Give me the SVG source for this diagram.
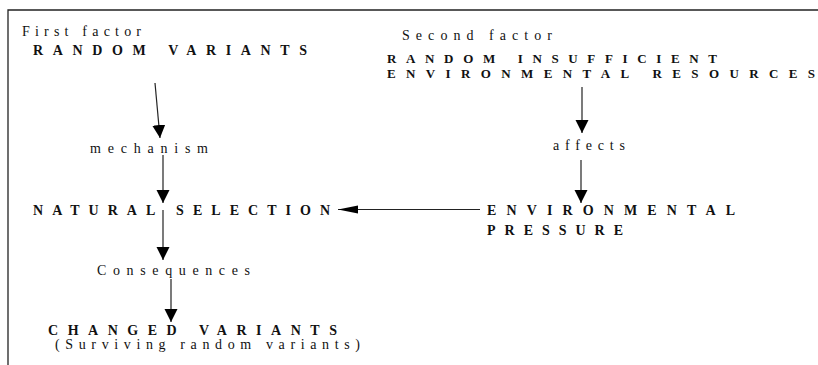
<svg xmlns="http://www.w3.org/2000/svg" width="818" height="365" viewBox="0 0 818 365">
<style>
text{font-family:"Liberation Serif","DejaVu Serif",serif;fill:#111}
.t{font-size:14px}
.b{font-size:14px;font-weight:bold}
.s{font-size:13px;font-weight:bold}
.c{stroke:#222;stroke-width:1.2;fill:none}
</style>
<defs>
<marker id="ah" markerUnits="userSpaceOnUse" markerWidth="14" markerHeight="14" refX="13" refY="6.5" orient="auto">
<path d="M0,0 L13,6.5 L0,13 z" fill="#000"/>
</marker>
<marker id="ahh" markerUnits="userSpaceOnUse" markerWidth="22" markerHeight="10" refX="20" refY="4" orient="auto">
<path d="M0,0 L20,4 L0,8 z" fill="#000"/>
</marker>
</defs>
<rect width="818" height="365" fill="#fff"/>
<path d="M8,365 V10 H818" stroke="#222" stroke-width="1.3" fill="none"/>
<g id="connectors">
<line class="c" x1="155" y1="83" x2="160" y2="138" marker-end="url(#ah)"/>
<line class="c" x1="163" y1="155" x2="163" y2="203" marker-end="url(#ah)"/>
<line class="c" x1="163" y1="210" x2="163" y2="260" marker-end="url(#ah)"/>
<line class="c" x1="171" y1="279" x2="171" y2="322" marker-end="url(#ah)"/>
<line class="c" x1="582" y1="87" x2="582" y2="133" marker-end="url(#ah)"/>
<line class="c" x1="581" y1="160" x2="581" y2="203" marker-end="url(#ah)"/>
<line class="c" x1="480" y1="209.5" x2="338" y2="209.5" marker-end="url(#ahh)" stroke="#444"/>
</g>
<g id="first-factor"><text class="t" x="22" y="36" textLength="119" lengthAdjust="spacing">First factor</text></g>
<g id="random-variants"><text class="b" x="33" y="55" textLength="274" lengthAdjust="spacing">RANDOM VARIANTS</text></g>
<g id="second-factor"><text class="t" x="402" y="40" textLength="150" lengthAdjust="spacing">Second factor</text></g>
<g id="random-insufficient">
<text class="s" x="387" y="63" textLength="330" lengthAdjust="spacing">RANDOM INSUFFICIENT</text>
<text class="s" x="387" y="77.5" textLength="428" lengthAdjust="spacing">ENVIRONMENTAL RESOURCES</text>
</g>
<g id="mechanism"><text class="t" x="90" y="153" textLength="118" lengthAdjust="spacing">mechanism</text></g>
<g id="affects"><text class="t" x="553" y="150" textLength="72" lengthAdjust="spacing">affects</text></g>
<g id="natural-selection"><text class="b" x="33" y="215" textLength="297" lengthAdjust="spacing">NATURAL SELECTION</text></g>
<g id="environmental-pressure">
<text class="b" x="487" y="215" textLength="248" lengthAdjust="spacing">ENVIRONMENTAL</text>
<text class="b" x="487" y="235" textLength="136" lengthAdjust="spacing">PRESSURE</text>
</g>
<g id="consequences"><text class="t" x="97" y="275" textLength="153" lengthAdjust="spacing">Consequences</text></g>
<g id="changed-variants">
<text class="b" x="48" y="335" textLength="289" lengthAdjust="spacing">CHANGED VARIANTS</text>
<text class="t" x="55" y="349" textLength="305" lengthAdjust="spacing">(Surviving random variants)</text>
</g>
</svg>
